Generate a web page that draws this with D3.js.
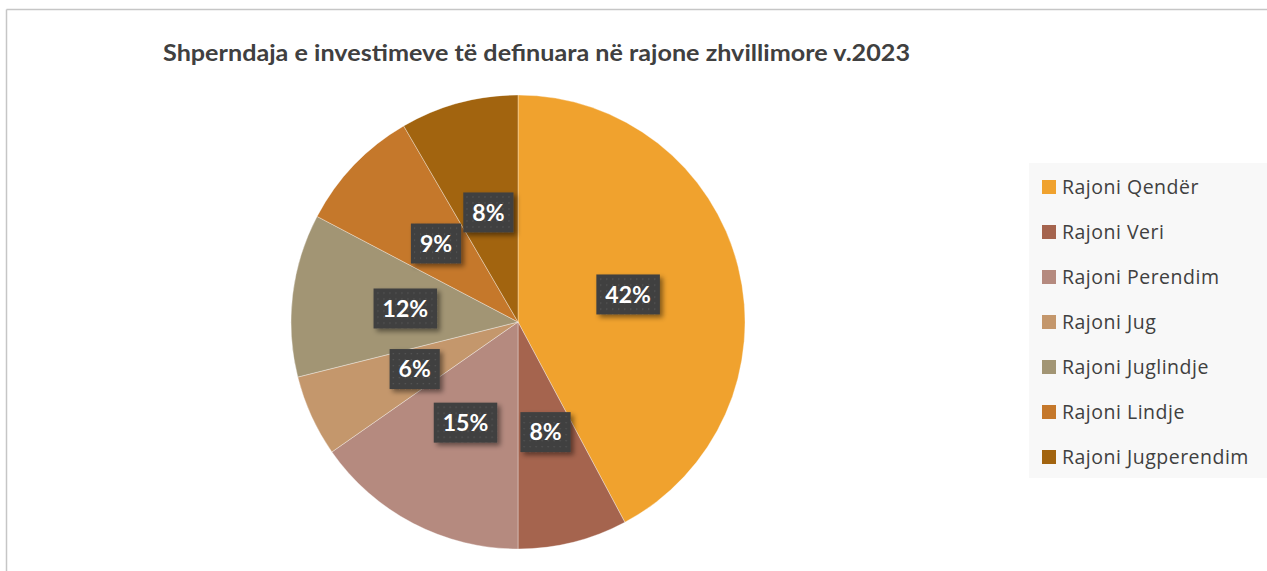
<!DOCTYPE html>
<html><head><meta charset="utf-8">
<script src="https://cdn.jsdelivr.net/npm/d3@7"></script>
<style>body{margin:0;background:#fff;}svg{display:block;}</style>
</head><body>
<script>
const categories = ["Rajoni Qendër","Rajoni Veri","Rajoni Perendim","Rajoni Jug","Rajoni Juglindje","Rajoni Lindje","Rajoni Jugperendim"];
const values = [42.2, 7.8, 15.3, 5.8, 11.6, 8.9, 8.4];
const colors = ["#F0A22E","#A5644E","#B58A7F","#C4976C","#A29574","#C5782B","#A2640F"];
const title = "Shperndaja e investimeve të definuara në rajone zhvillimore v.2023";

const W = 1267, H = 571;
const svg = d3.select("body").append("svg").attr("width", W).attr("height", H);
const defs = svg.append("defs");
const pat = defs.append("pattern").attr("id","dots").attr("width",6).attr("height",6).attr("patternUnits","userSpaceOnUse");
pat.append("rect").attr("width",6).attr("height",6).attr("fill","#404040");
pat.append("rect").attr("x",2).attr("y",2).attr("width",1.2).attr("height",1.2).attr("fill","#5a5a5a");
const sh = defs.append("filter").attr("id","shadow").attr("x","-30%").attr("y","-30%").attr("width","160%").attr("height","160%");
sh.append("feDropShadow").attr("dx",3).attr("dy",3).attr("stdDeviation",2.5).attr("flood-color","#000").attr("flood-opacity",0.45);

// frame
svg.append("line").attr("x1",6.5).attr("y1",9.5).attr("x2",W).attr("y2",9.5).attr("stroke","#c6c6c6").attr("stroke-width",1.5);
svg.append("line").attr("x1",6.5).attr("y1",9.5).attr("x2",6.5).attr("y2",H).attr("stroke","#c6c6c6").attr("stroke-width",1.5);

svg.append("text").attr("x",163).attr("y",61)
  .attr("font-family","Lato, 'Open Sans', sans-serif").attr("font-weight","bold").attr("font-size",22)
  .attr("textLength",747).attr("lengthAdjust","spacingAndGlyphs")
  .attr("fill","#404040").text(title);

const cx = 518, cy = 322, R = 227;
const pie = d3.pie().sort(null).value(d => d)(values);
const arc = d3.arc().innerRadius(0).outerRadius(R);
const g = svg.append("g").attr("transform",`translate(${cx},${cy})`);
g.selectAll("path").data(pie).join("path").attr("d",arc)
  .attr("fill",(d,i)=>colors[i]).attr("stroke","rgba(255,255,255,0.35)").attr("stroke-width",1);

const fmt = d3.format(".0f");
const lab = g.selectAll("g.lab").data(pie).join("g").attr("class","lab")
  .attr("transform", d => `translate(${arc.centroid(d)})`);
lab.each(function(d){
  const s = d3.select(this);
  const t = fmt(d.data) + "%";
  const txt = s.append("text").attr("text-anchor","middle").attr("dy","0.36em")
    .attr("font-family","Lato, 'Open Sans', sans-serif").attr("font-weight","bold").attr("font-size",23)
    .attr("fill","#fff").text(t);
  const w = txt.node().getComputedTextLength() + 18, h = 40;
  s.insert("rect","text").attr("x",-w/2).attr("y",-h/2).attr("width",w).attr("height",h)
    .attr("fill","url(#dots)").attr("filter","url(#shadow)");
});

// legend
const lg = svg.append("g");
lg.append("rect").attr("x",1029).attr("y",163).attr("width",W-1029).attr("height",315).attr("fill","#f8f8f8");
const ly = d3.scalePoint().domain(categories).range([187,457]);
const items = lg.selectAll("g.it").data(categories).join("g").attr("class","it")
  .attr("transform", d => `translate(1042,${ly(d)})`);
items.append("rect").attr("x",0).attr("y",-7).attr("width",14).attr("height",14).attr("fill",(d,i)=>colors[i]);
items.append("text").attr("x",20).attr("dy","0.35em").attr("font-family","'Open Sans', sans-serif")
  .attr("font-size",19.5).attr("letter-spacing",0.5).attr("fill","#404040").text(d=>d);
</script>
</body></html>
